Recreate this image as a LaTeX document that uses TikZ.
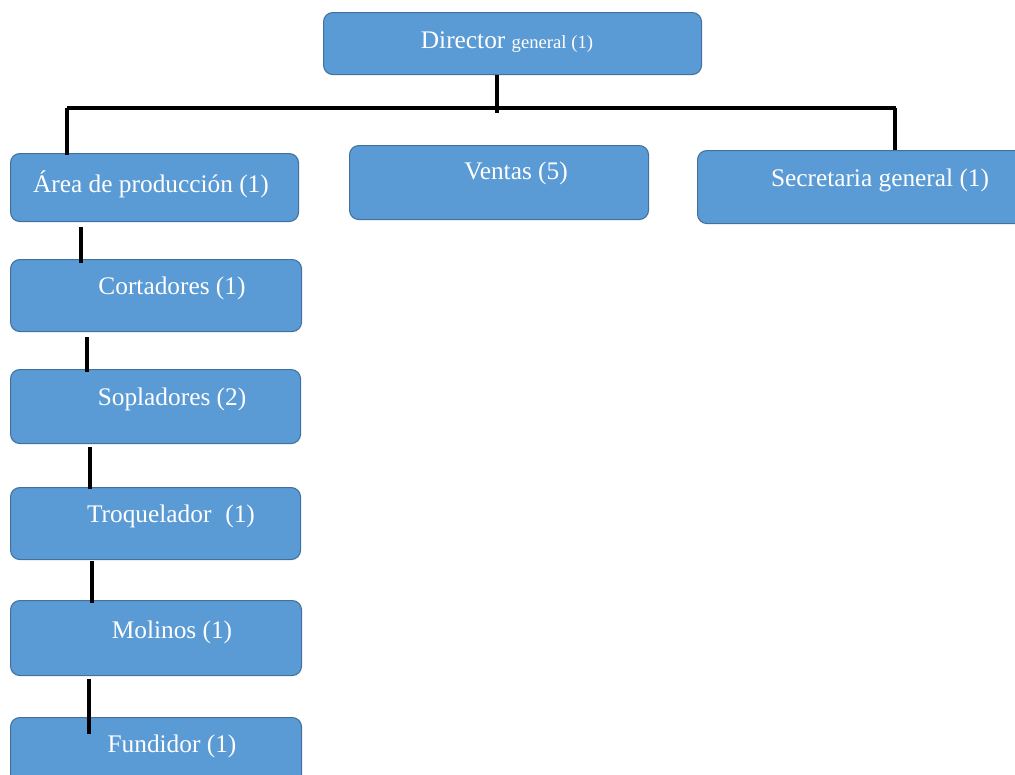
\documentclass[tikz,border=0pt]{standalone}
\usepackage{fontspec}
\setmainfont{Liberation Serif}
\definecolor{boxfill}{HTML}{5B9BD5}
\definecolor{boxline}{HTML}{41719C}
\begin{document}
\begin{tikzpicture}[x=0.75pt,y=-0.75pt,
  orgbox/.style={draw=boxline, fill=boxfill, line width=0.8pt, rounded corners=7pt, inner sep=0pt, anchor=north west},
  lbl/.style={text=white, font=\fontsize{19}{22}\selectfont, inner sep=0pt},
  conn/.style={line width=2.6pt, black}]
\useasboundingbox (0,0) rectangle (1015,775);
% boxes
\node[orgbox, minimum width=283.5pt, minimum height=46.5pt] (dir) at (323,12) {};
\node[orgbox, minimum width=216pt, minimum height=51pt] (area) at (10,153) {};
\node[orgbox, minimum width=224.25pt, minimum height=55.5pt] (ventas) at (349,145) {};
\node[orgbox, minimum width=262pt, minimum height=54.75pt] (secr) at (697,150) {};
\node[orgbox, minimum width=218.25pt, minimum height=54pt] (cort) at (10,259) {};
\node[orgbox, minimum width=217.5pt, minimum height=55.5pt] (sopl) at (10,369) {};
\node[orgbox, minimum width=217.5pt, minimum height=54pt] (troq) at (10,487) {};
\node[orgbox, minimum width=218.25pt, minimum height=56.25pt] (mol) at (10,600) {};
\node[orgbox, minimum width=218.25pt, minimum height=54.75pt] (fund) at (10,717) {};
% labels
\node[lbl] (tdir) at (507,42) {Director {\fontsize{14}{16}\selectfont general (1)}};
\node[lbl] (tarea) at (151,184) {Área de producción (1)};
\node[lbl] (tventas) at (516,173) {Ventas (5)};
\node[lbl] (tsecr) at (880,180) {Secretaria general (1)};
\node[lbl] (tcort) at (172,288) {Cortadores (1)};
\node[lbl] (tsopl) at (172,399) {Sopladores (2)};
\node[lbl] (ttroq) at (171,516) {Troquelador\hspace{0.3em} (1)};
\node[lbl] (tmol) at (172,632) {Molinos (1)};
\node[lbl] (tfund) at (172,746) {Fundidor (1)};
% connectors
\coordinate (busL) at (67,108);
\coordinate (busR) at (896,108);
\draw[conn] (dir.south -| 497,0) -- (497,113);
\draw[conn] (busL) -- (busR);
\draw[conn] (busL) -- (area.north -| busL) -- ++(0,2);
\draw[conn] (895,108) -- (secr.north -| 895,0);
\draw[conn] ([shift={(71,5)}]area.south west) -- ([shift={(71,4)}]cort.north west);
\draw[conn] ([shift={(77,5)}]cort.south west) -- ([shift={(77,3)}]sopl.north west);
\draw[conn] ([shift={(80,3)}]sopl.south west) -- ([shift={(80,2)}]troq.north west);
\draw[conn] ([shift={(82,1)}]troq.south west) -- ([shift={(82,3)}]mol.north west);
\draw[conn] ([shift={(79,3)}]mol.south west) -- ([shift={(79,17)}]fund.north west);
\end{tikzpicture}
\end{document}
